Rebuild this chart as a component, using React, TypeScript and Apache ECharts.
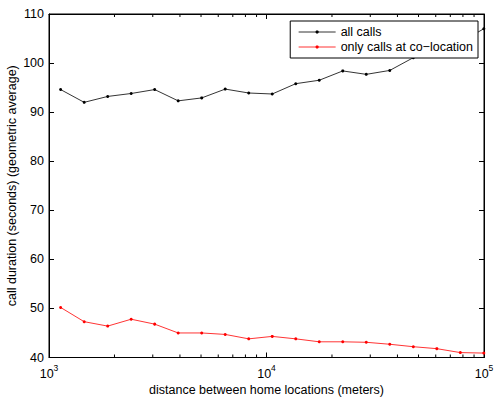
import React, { useEffect, useRef } from "react";
import * as echarts from "echarts";

const distances = [1131, 1451, 1861, 2387, 3061, 3926, 5036, 6459, 8284, 10625, 13628, 17479, 22419, 28755, 36881, 47304, 60672, 77818, 99810];
const allCalls = [94.6, 92.0, 93.2, 93.8, 94.6, 92.3, 92.9, 94.7, 93.9, 93.7, 95.8, 96.5, 98.4, 97.7, 98.5, 101.1, 101.8, 104.2, 107.0];
const coLocation = [50.2, 47.3, 46.4, 47.8, 46.8, 45.0, 45.0, 44.7, 43.8, 44.3, 43.8, 43.2, 43.2, 43.1, 42.7, 42.2, 41.8, 41.0, 40.9];
const minorTicks = [2000, 3000, 4000, 5000, 6000, 7000, 8000, 9000, 20000, 30000, 40000, 50000, 60000, 70000, 80000, 90000];
const seriesNames = ["all calls", "only calls at co\u2212location"];
const xTitle = "distance between home locations (meters)";
const yTitle = "call duration (seconds) (geometric average)";

const FONT = "Liberation Sans, Arial, Helvetica, sans-serif";
const FS = 12.5;

export default function App() {
  const ref = useRef<HTMLDivElement>(null);
  useEffect(() => {
    if (!ref.current) return;
    const chart = echarts.init(ref.current, null, { renderer: "svg" });
    const yMin = 40;
    const yMax = 110;
    chart.setOption({
      animation: false,
      backgroundColor: "#fff",
      textStyle: { fontFamily: FONT },
      grid: {
        left: 49,
        right: 15,
        top: 14,
        bottom: 39.5,
        show: true,
        borderColor: "#000",
        borderWidth: 1,
        containLabel: false,
        outerBoundsMode: "none",
      },
      legend: {
        data: seriesNames,
        orient: "vertical",
        right: 21,
        top: 21,
        backgroundColor: "#fff",
        borderColor: "#000",
        borderWidth: 1,
        borderRadius: 0,
        padding: [4, 5, 4, 8],
        itemGap: 1,
        itemWidth: 37,
        itemHeight: 4,
        lineStyle: { width: 0.8 },
        textStyle: { fontSize: FS, color: "#000", fontFamily: FONT, lineHeight: 14 },
      },
      xAxis: [
        {
          type: "log",
          logBase: 10,
          min: 1000,
          max: 100000,
          position: "bottom",
          name: xTitle,
          nameLocation: "middle",
          nameGap: 25.5,
          nameMoveOverlap: false,
          nameTextStyle: { fontSize: FS, color: "#000", fontFamily: FONT },
          axisLine: { show: true, lineStyle: { color: "#000", width: 1 } },
          axisTick: { show: true, inside: true, length: 5, lineStyle: { color: "#000" } },
          splitLine: { show: false },
          axisLabel: {
            margin: 6,
            formatter: (v: number) => `{b|10}{s|${Math.round(Math.log10(v))}}`,
            rich: {
              b: { fontSize: FS, color: "#000", fontFamily: FONT, lineHeight: 17, verticalAlign: "bottom" },
              s: { fontSize: 8.5, color: "#000", fontFamily: FONT, lineHeight: 17, verticalAlign: "top" },
            },
          },
        },
        {
          type: "log",
          logBase: 10,
          min: 1000,
          max: 100000,
          position: "top",
          axisLine: { show: true, lineStyle: { color: "#000", width: 1 } },
          axisTick: { show: true, inside: true, length: 5, lineStyle: { color: "#000" } },
          axisLabel: { show: false },
          splitLine: { show: false },
        },
      ],
      yAxis: [
        {
          type: "value",
          min: yMin,
          max: yMax,
          interval: 10,
          position: "left",
          name: yTitle,
          nameLocation: "middle",
          nameGap: 31,
          nameMoveOverlap: false,
          nameRotate: 90,
          nameTextStyle: { fontSize: FS, color: "#000", fontFamily: FONT },
          axisLine: { show: true, lineStyle: { color: "#000", width: 1 } },
          axisTick: { show: true, inside: true, length: 5, lineStyle: { color: "#000" } },
          axisLabel: { fontSize: FS, color: "#000", margin: 5, fontFamily: FONT },
          splitLine: { show: false },
        },
        {
          type: "value",
          min: yMin,
          max: yMax,
          interval: 10,
          position: "right",
          axisLine: { show: true, lineStyle: { color: "#000", width: 1 } },
          axisTick: { show: true, inside: true, length: 5, lineStyle: { color: "#000" } },
          axisLabel: { show: false },
          splitLine: { show: false },
        },
      ],
      series: [
        {
          name: seriesNames[0],
          type: "line",
          data: distances.map((d, i) => [d, allCalls[i]]),
          symbol: "circle",
          symbolSize: 3,
          itemStyle: { color: "#000" },
          lineStyle: { color: "#000", width: 0.8 },
          z: 3,
        },
        {
          name: seriesNames[1],
          type: "line",
          data: distances.map((d, i) => [d, coLocation[i]]),
          symbol: "circle",
          symbolSize: 3,
          itemStyle: { color: "#ff0000" },
          lineStyle: { color: "#ff0000", width: 0.8 },
          z: 3,
        },
        {
          name: "minor",
          type: "custom",
          silent: true,
          clip: false,
          data: minorTicks.map((t) => [t, yMin]),
          renderItem: (params: any, api: any) => {
            const v = api.value(0);
            const b = api.coord([v, yMin]);
            const t = api.coord([v, yMax]);
            return {
              type: "group",
              children: [
                { type: "line", shape: { x1: b[0], y1: b[1], x2: b[0], y2: b[1] - 3 }, style: { stroke: "#000", lineWidth: 1 } },
                { type: "line", shape: { x1: t[0], y1: t[1], x2: t[0], y2: t[1] + 3 }, style: { stroke: "#000", lineWidth: 1 } },
              ],
            };
          },
          z: 2,
        },
      ],
    });
    return () => chart.dispose();
  }, []);
  return <div ref={ref} style={{ width: 499, height: 397, position: "absolute", left: 0, top: 0 }} />;
}
